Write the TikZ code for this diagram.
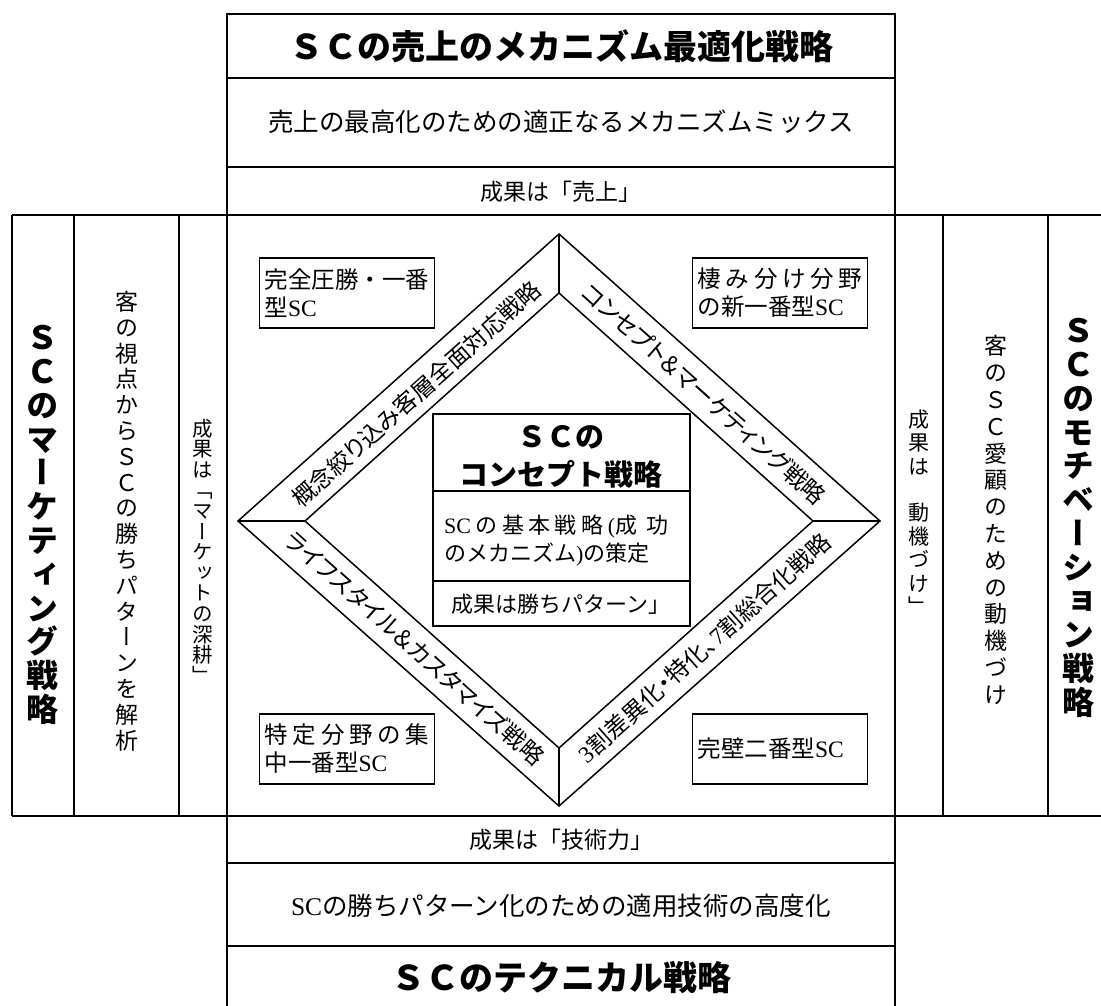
\documentclass[tikz,border=0pt]{standalone}
\usepackage{fontspec}
\newfontfamily\jp{Noto Sans CJK JP}
\newfontfamily\jpp{Noto Sans CJK JP}[RawFeature=+palt]
\newfontfamily\jpv{Noto Sans CJK JP}[RawFeature=+vert]
\newfontfamily\lser{Liberation Serif}
\newcommand\tightls{\lineskiplimit=-50pt\relax}
\begin{document}
\begin{tikzpicture}[x=1pt,y=-1pt,
  brd/.style={line width=2.4pt},
  dl/.style={line width=1.5pt, line join=miter},
  cbox/.style={draw, line width=1.5pt, inner sep=5pt, text width=165pt, minimum height=70pt, align=left, font=\jp\fontsize{23.5}{28}\selectfont},
  ttl/.style={font=\jp\bfseries\fontsize{34}{36}\selectfont, inner sep=0pt},
  ctl/.style={font=\jp\bfseries\fontsize{29}{38}\selectfont, inner sep=0pt, align=center},
  txt/.style={font=\jp\fontsize{25.5}{28}\selectfont, inner sep=0pt},
  res/.style={font=\jp\fontsize{23}{26}\selectfont, inner sep=0pt},
  ctx/.style={font=\jp\fontsize{22}{26}\selectfont, inner sep=0pt},
  vtxt/.style={align=center, inner sep=0pt, font={\jpv\fontsize{23}{25.8}\selectfont\tightls}},
  vtxtb/.style={align=center, inner sep=0pt, font={\jpv\fontsize{23}{26.8}\selectfont\tightls}},
  vsm/.style={align=center, inner sep=0pt, font={\jpv\fontsize{20.5}{20.6}\selectfont\tightls}},
  vsmb/.style={align=center, inner sep=0pt, font={\jpv\fontsize{21}{23.4}\selectfont\tightls}},
  vbold/.style={align=center, inner sep=0pt, font={\jpv\bfseries\fontsize{32}{33.8}\selectfont\tightls}},
  elab/.style={font=\jpp\fontsize{23.5}{26}\selectfont, inner sep=0pt},
]
\useasboundingbox (0,0) rectangle (1101,1006);
\clip (0,0) rectangle (1101,1006);

% frame lines
\draw[brd] (227,1012) -- (227,14) -- (895,14) -- (895,1012);
\draw[brd] (227,78) -- (895,78);
\draw[brd] (227,167) -- (895,167);
\draw[brd] (12,215) -- (1110,215);
\draw[brd] (12,816) -- (1110,816);
\draw[brd] (12,215) -- (12,816);
\draw[brd] (74,215) -- (74,816);
\draw[brd] (179,215) -- (179,816);
\draw[brd] (943,215) -- (943,816);
\draw[brd] (1048,215) -- (1048,816);
\draw[brd] (227,863) -- (895,863);
\draw[brd] (227,946) -- (895,946);

% top block texts
\node[ttl] (t1) at (561,46) {ＳＣの売上のメカニズム最適化戦略};
\node[txt] (t2) at (561,122) {売上の最高化のための適正なるメカニズムミックス};
\node[res] (t3) at (561,192) {成果は「売上」};

% bottom block texts
\node[res] (b1) at (561,840) {成果は「技術力」};
\node[txt] (b2) at (561,906) {{\lser SC}の勝ちパターン化のための適用技術の高度化};
\node[ttl] (b3) at (561,978) {ＳＣのテクニカル戦略};

% vertical texts
\node[vbold] (l1) at (43,525) {Ｓ\\Ｃ\\の\\マ\\ー\\ケ\\テ\\ィ\\ン\\グ\\戦\\略};
\node[vtxt] (l2) at (127,521) {客\\の\\視\\点\\か\\ら\\Ｓ\\Ｃ\\の\\勝\\ち\\パ\\タ\\ー\\ン\\を\\解\\析};
\node[vsm] (l3) at (203,551) {成\\果\\は\\「\\マ\\ー\\ケ\\ッ\\ト\\の\\深\\耕\\」};
\node[vsmb] (r1) at (919,512) {成\\果\\は\\\phantom{は}\\動\\機\\づ\\け\\」};
\node[vtxtb] (r2) at (996,520) {客\\の\\Ｓ\\Ｃ\\愛\\顧\\の\\た\\め\\の\\動\\機\\づ\\け};
\node[vbold] (r3) at (1078,518) {Ｓ\\Ｃ\\の\\モ\\チ\\ベ\\ー\\シ\\ョ\\ン\\戦\\略};

% diamond
\coordinate (ot) at (559,234);
\coordinate (ol) at (238,521);
\coordinate (or) at (880,521);
\coordinate (ob) at (559,806);
\coordinate (it) at (559,293);
\coordinate (il) at (305,521);
\coordinate (ir) at (813,521);
\coordinate (ib) at (559,748);
\draw[dl] (ot) -- (or) -- (ob) -- (ol) -- cycle;
\draw[dl] (it) -- (ir) -- (ib) -- (il) -- cycle;
\draw[dl] (ot) -- (it);
\draw[dl] (ol) -- (il);
\draw[dl] (or) -- (ir);
\draw[dl] (ob) -- (ib);

\node[elab, rotate=41.8] (e1) at (416,394) {概念絞り込み客層全面対応戦略};
\node[elab, rotate=-41.8] (e2) at (704,394) {コンセプト＆マーケティング戦略};
\node[elab, rotate=-41.8] (e3) at (415,648) {ライフスタイル＆カスタマイズ戦略};
\node[elab, rotate=41.8] (e4) at (704,648) {{\lser 3}割差異化・特化、{\lser 7}割総合化戦略};

% center box
\draw[line width=2pt] (433,414) rectangle (690,626);
\draw[line width=2pt] (433,491) -- (690,491);
\draw[line width=2pt] (433,581) -- (690,581);
\node[ctl] (c1) at (561,457) {ＳＣの\\コンセプト戦略};
\node[ctx, anchor=west] (c2) at (444,527) {\hbox to 224pt{{\lser SC}\hfil の\hfil 基\hfil 本\hfil 戦\hfil 略\hfil{\lser (}成\hfil\hfil 功}};
\node[ctx, anchor=west] (c3) at (444,554) {のメカニズム{\lser )}の策定};
\node[ctx] (c4) at (561,604) {成果は勝ちパターン」};

% corner boxes
\node[cbox] (k1) at (347,293) {完全圧勝・一番\\型{\lser SC}};
\node[cbox] (k2) at (780,293) {\hbox to 165pt{棲\hfil み\hfil 分\hfil け\hfil 分\hfil 野}\\の新一番型{\lser SC}};
\node[cbox] (k3) at (347,749) {\hbox to 165pt{特\hfil 定\hfil 分\hfil 野\hfil の\hfil 集}\\中一番型{\lser SC}};
\node[cbox] (k4) at (780,749) {完壁二番型{\lser SC}};
\end{tikzpicture}
\end{document}
